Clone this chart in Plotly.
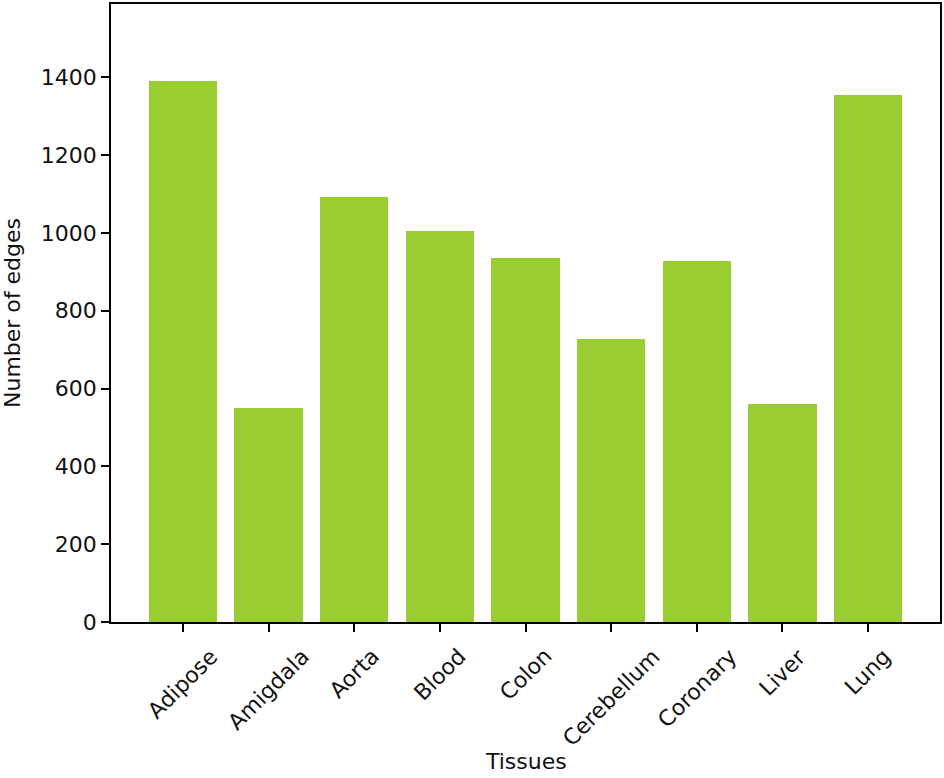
import plotly.graph_objects as go

tissues = ["Adipose", "Amigdala", "Aorta", "Blood", "Colon", "Cerebellum", "Coronary", "Liver", "Lung"]
edges = [1391, 550, 1091, 1005, 936, 726, 928, 559, 1354]
y_ticks = [0, 200, 400, 600, 800, 1000, 1200, 1400]

fig = go.Figure(go.Bar(
    x=list(range(len(tissues))),
    y=edges,
    width=0.8,
    marker=dict(color="#9ACD32", line=dict(width=0)),
))

font = dict(family="DejaVu Sans", size=22, color="#111111")
fig.update_layout(
    width=944, height=778,
    margin=dict(l=111, r=4, t=4, b=156),
    plot_bgcolor="white", paper_bgcolor="white",
    font=font,
    showlegend=False,
    bargap=0,
)

# category labels, rotated 45° and centred under each tick (matplotlib style)
for i, name in enumerate(tissues):
    fig.add_annotation(
        x=i, xref="x", y=-0.031, yref="paper",
        text=name, textangle=-45, showarrow=False,
        xanchor="center", yanchor="top", font=font,
    )

fig.update_xaxes(
    automargin=False,
    range=[-0.84, len(tissues) - 1 + 0.84],
    tickmode="array",
    tickvals=list(range(len(tissues))),
    showticklabels=False,
    ticks="outside", ticklen=8, tickwidth=1.5, tickcolor="black",
    showline=True, linecolor="black", linewidth=1.8, mirror=True,
    showgrid=False, zeroline=False,
)
fig.add_annotation(
    x=0.5, xref="paper", y=-0.225, yref="paper",
    text="Tissues", showarrow=False, xanchor="center", yanchor="middle", font=font,
)
fig.update_yaxes(
    automargin=False,
    range=[0, 1588],
    tickmode="array",
    tickvals=y_ticks,
    ticktext=[str(v) for v in y_ticks],
    ticks="outside", ticklen=8, tickwidth=1.5, tickcolor="black",
    showline=True, linecolor="black", linewidth=1.8, mirror=True,
    showgrid=False, zeroline=False,
    title=dict(text="Number of edges", font=font, standoff=14),
)

fig.write_html(
    "out.html",
    config={"displayModeBar": False},
    post_script="document.body.style.margin='0';document.body.style.overflow='hidden';",
)
